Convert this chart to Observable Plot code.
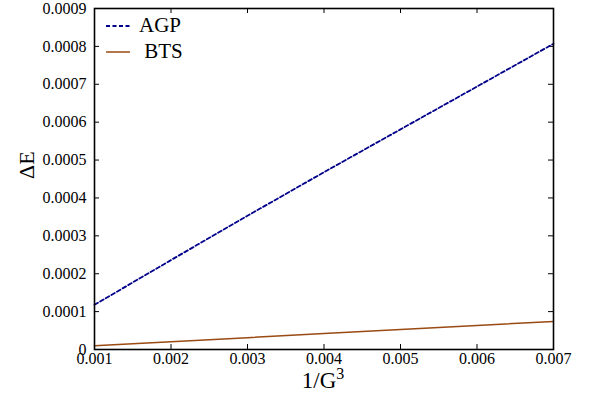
<!DOCTYPE html>
<html>
<head>
<meta charset="utf-8">
<script src="https://cdn.jsdelivr.net/npm/d3@7"></script>
<script src="https://cdn.jsdelivr.net/npm/@observablehq/plot@0.6"></script>
<style>
  html, body { margin: 0; padding: 0; background: #fff; }
  #wrap { position: relative; width: 591px; height: 408px; font-family: "Liberation Serif", serif; }
  .leg { position: absolute; font-size: 21px; line-height: 1; color: #000; white-space: pre; }
  .xlab { position: absolute; left: 223px; width: 200px; text-align: center; top: 369px; font-size: 23px; line-height: 1; color: #000; }
  .xlab sup { font-size: 16px; vertical-align: 9px; line-height: 0; }
</style>
</head>
<body>
<div id="wrap"></div>
<script>
// Data
const invG3 = [0.001, 0.002, 0.003, 0.004, 0.005, 0.006, 0.007];
const agp = [0.000118, 0.000236, 0.000353, 0.000468, 0.000581, 0.000694, 0.000807];
const bts = [0.0000100, 0.0000207, 0.0000313, 0.0000420, 0.0000527, 0.0000633, 0.0000740];
const xTicks = [0.001, 0.002, 0.003, 0.004, 0.005, 0.006, 0.007];
const yTicks = [0, 0.0001, 0.0002, 0.0003, 0.0004, 0.0005, 0.0006, 0.0007, 0.0008, 0.0009];
const seriesNames = ["AGP", "BTS"];
const colors = {AGP: "#00008b", BTS: "#9a4a12"};

const rows = [];
invG3.forEach((x, i) => {
  rows.push({series: "AGP", x, y: agp[i]});
  rows.push({series: "BTS", x, y: bts[i]});
});

const W = 591, H = 408, mL = 94, mR = 38, mT = 8, mB = 59;
const iw = W - mL - mR, ih = H - mT - mB;
const tk = 5;

const chart = Plot.plot({
  width: W, height: H,
  marginLeft: mL, marginRight: mR, marginTop: mT, marginBottom: mB,
  style: {fontFamily: "Liberation Serif", fontSize: "16px", color: "#000", background: "#fff"},
  x: {domain: [0.001, 0.007]},
  y: {domain: [0, 0.0009]},
  marks: [
    Plot.axisX(xTicks, {tickSize: 0, tickPadding: 3, tickFormat: d => d.toFixed(3), label: null, fontSize: 16}),
    Plot.axisY(yTicks, {tickSize: 0, tickPadding: 8, tickFormat: d => d === 0 ? "0" : d.toFixed(4), label: null, fontSize: 16}),
    // inward ticks on all four sides
    Plot.tickY(yTicks, {y: d => d, insetRight: iw - tk, stroke: "#000", strokeWidth: 1}),
    Plot.tickY(yTicks, {y: d => d, insetLeft: iw - tk, stroke: "#000", strokeWidth: 1}),
    Plot.tickX(xTicks, {x: d => d, insetTop: ih - tk, stroke: "#000", strokeWidth: 1}),
    Plot.tickX(xTicks, {x: d => d, insetBottom: ih - tk, stroke: "#000", strokeWidth: 1}),
    Plot.line(rows.filter(d => d.series === "BTS"), {x: "x", y: "y", stroke: colors.BTS, strokeWidth: 1.5}),
    Plot.line(rows.filter(d => d.series === "AGP"), {x: "x", y: "y", stroke: colors.AGP, strokeWidth: 1.8, strokeDasharray: "4,2.5"}),
    Plot.frame({stroke: "#000", strokeWidth: 1.6}),
    Plot.text(["ΔE"], {frameAnchor: "left", dx: -68, rotate: -90, fontSize: 22, fill: "#000"})
  ]
});

const wrap = document.getElementById("wrap");
wrap.appendChild(chart);

// x-axis label with superscript
const xl = document.createElement("div");
xl.className = "xlab";
xl.innerHTML = "1/G<sup>3</sup>";
wrap.appendChild(xl);

// Legend
const legendItems = [
  {name: seriesNames[0], top: 26, textLeft: 139, dash: "4,2.5", sw: 1.8},
  {name: " " + seriesNames[1], top: 52, textLeft: 139, dash: null, sw: 1.5}
];
legendItems.forEach(it => {
  const key = it.name.trim();
  const svg = d3.create("svg").attr("width", 26).attr("height", 6)
    .style("position", "absolute").style("left", "105px").style("top", (it.top - 3) + "px");
  svg.append("line").attr("x1", 1).attr("x2", 25).attr("y1", 3).attr("y2", 3)
    .attr("stroke", colors[key]).attr("stroke-width", it.sw)
    .attr("stroke-dasharray", it.dash);
  wrap.appendChild(svg.node());
  const t = document.createElement("div");
  t.className = "leg";
  t.textContent = it.name;
  t.style.left = it.textLeft + "px";
  t.style.top = (it.top - 11) + "px";
  wrap.appendChild(t);
});
</script>
</body>
</html>
